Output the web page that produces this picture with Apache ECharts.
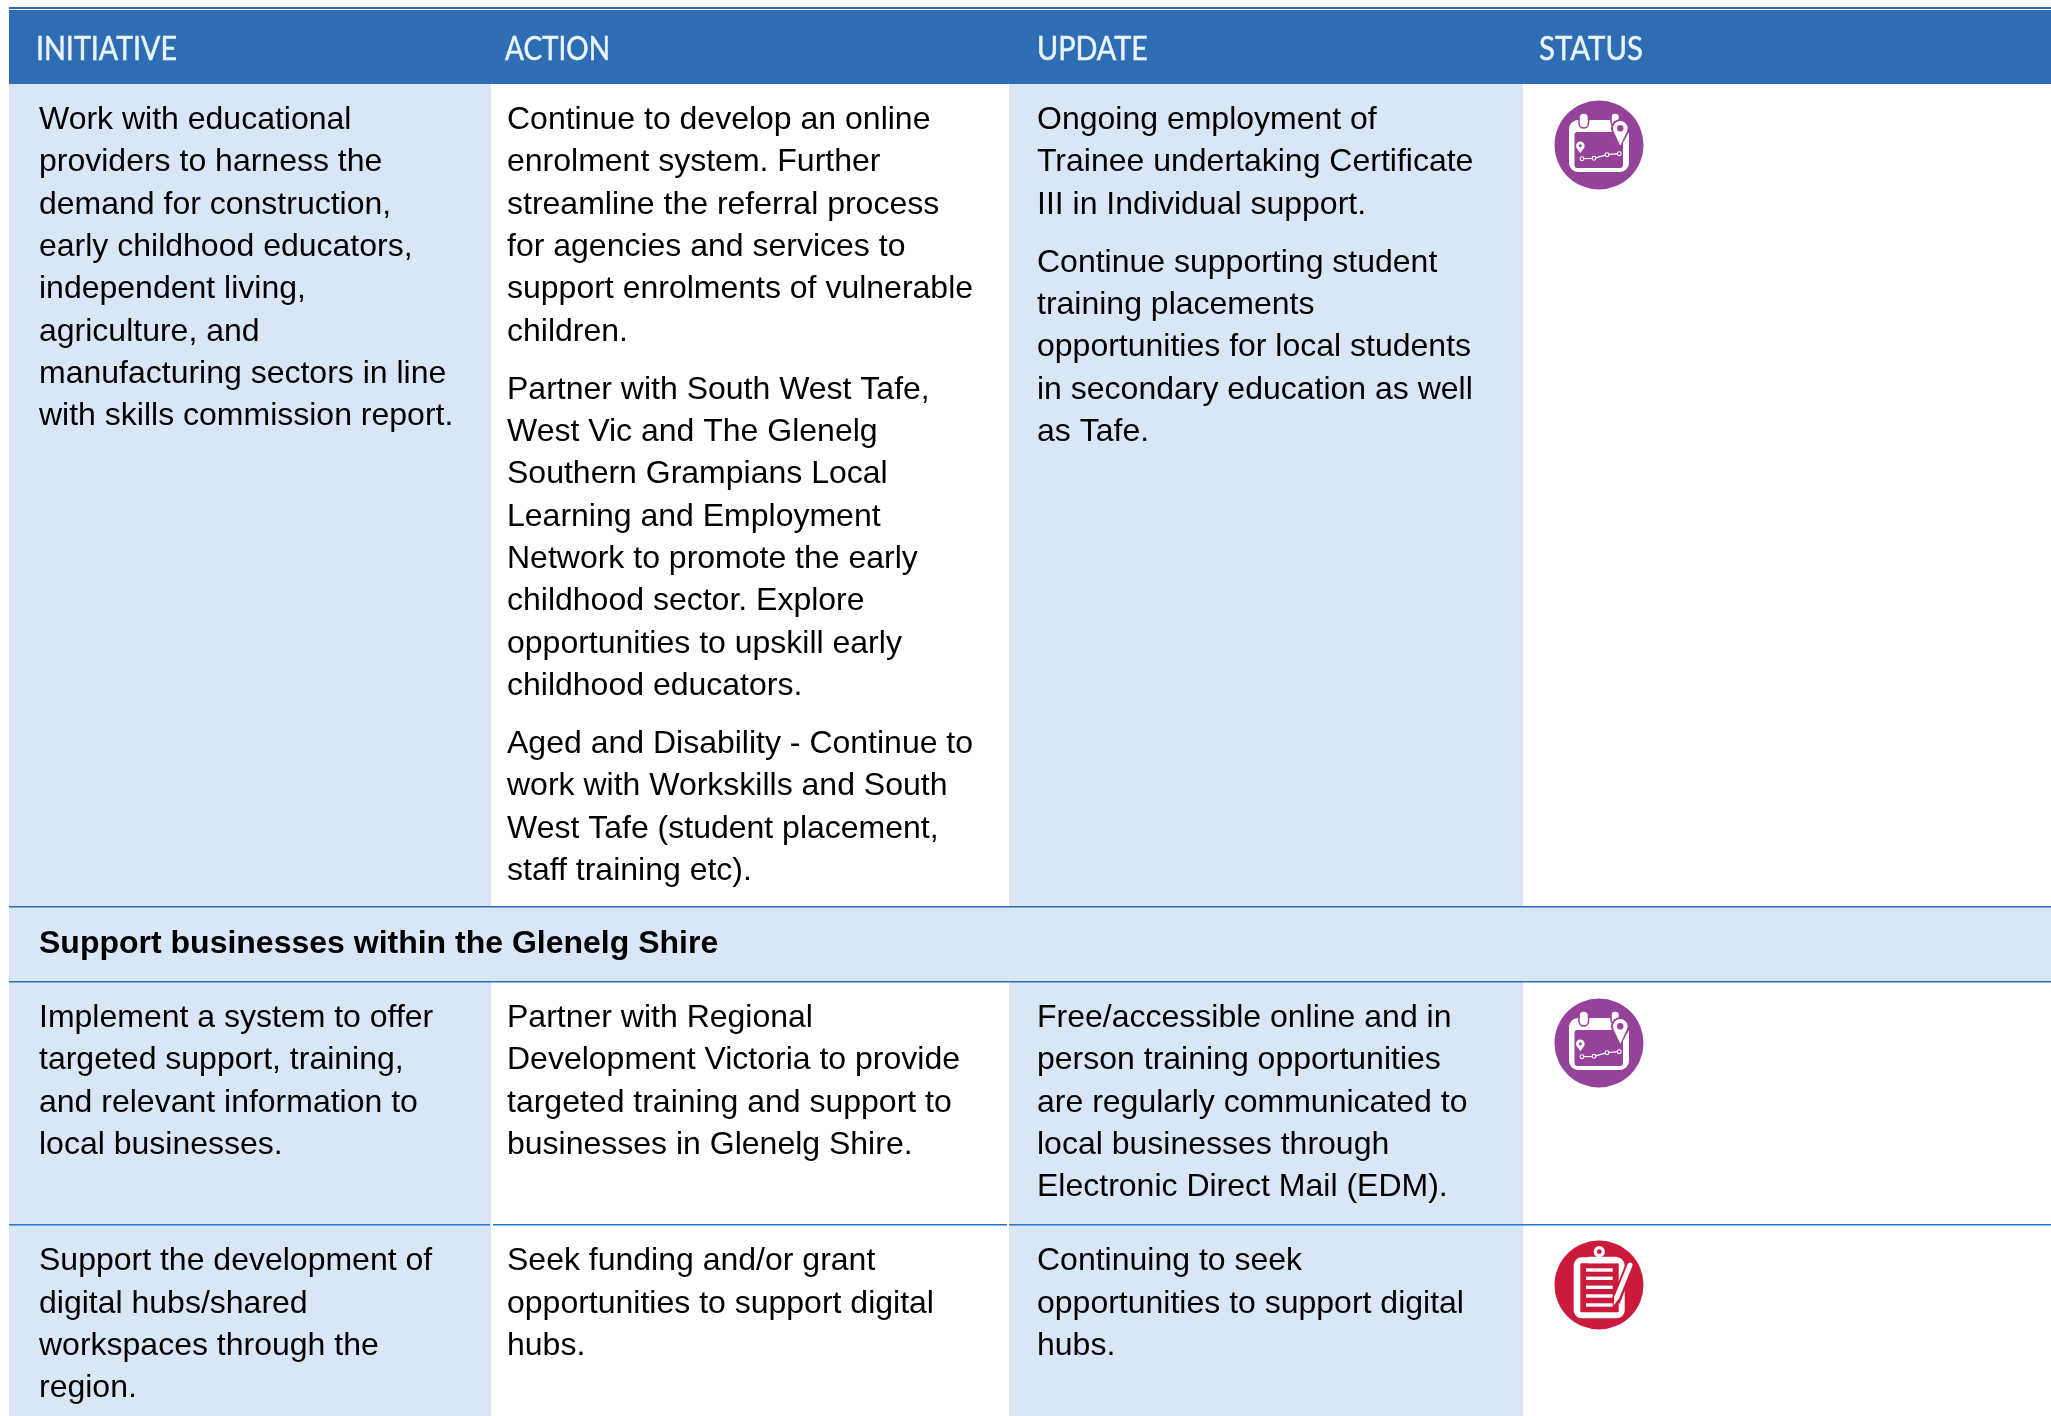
<!DOCTYPE html>
<html>
<head>
<meta charset="utf-8">
<title>Initiatives table</title>
<script src="https://cdn.jsdelivr.net/npm/echarts@6/dist/echarts.min.js"></script>
<style>
  html, body { margin: 0; padding: 0; background: #fff; }
  #main { width: 2051px; height: 1416px; }
</style>
</head>
<body>
<div id="main"></div>
<script>
// table content, one list of lines per paragraph
var headers = ['INITIATIVE', 'ACTION', 'UPDATE', 'STATUS'];
var sectionTitle = 'Support businesses within the Glenelg Shire';

var initiative1 = [['Work with educational', 'providers to harness the', 'demand for construction,', 'early childhood educators,', 'independent living,', 'agriculture, and', 'manufacturing sectors in line', 'with skills commission report.']];
var action1 = [
  ['Continue to develop an online', 'enrolment system. Further', 'streamline the referral process', 'for agencies and services to', 'support enrolments of vulnerable', 'children.'],
  ['Partner with South West Tafe,', 'West Vic and The Glenelg', 'Southern Grampians Local', 'Learning and Employment', 'Network to promote the early', 'childhood sector. Explore', 'opportunities to upskill early', 'childhood educators.'],
  ['Aged and Disability - Continue to', 'work with Workskills and South', 'West Tafe (student placement,', 'staff training etc).']
];
var update1 = [
  ['Ongoing employment of', 'Trainee undertaking Certificate', 'III in Individual support.'],
  ['Continue supporting student', 'training placements', 'opportunities for local students', 'in secondary education as well', 'as Tafe.']
];

var initiative2 = [['Implement a system to offer', 'targeted support, training,', 'and relevant information to', 'local businesses.']];
var action2 = [['Partner with Regional', 'Development Victoria to provide', 'targeted training and support to', 'businesses in Glenelg Shire.']];
var update2 = [['Free/accessible online and in', 'person training opportunities', 'are regularly communicated to', 'local businesses through', 'Electronic Direct Mail (EDM).']];

var initiative3 = [['Support the development of', 'digital hubs/shared', 'workspaces through the', 'region.']];
var action3 = [['Seek funding and/or grant', 'opportunities to support digital', 'hubs.']];
var update3 = [['Continuing to seek', 'opportunities to support digital', 'hubs.']];

// layout
var blue = '#2e6db4';
var pale = '#d9e6f6';
var purple = '#94429a';
var red = '#cb1a3c';
var bodyFont = '32px "Liberation Sans"';
var headerFont = '32px Lato';
var lineGap = 42.35;
var paraGap = 15.5;
var headerX = [36, 505, 1037, 1539];
var headerWidths = [141, 105, 111, 104];
var textX = [39, 507, 1037];

var elements = [];
var measure = document.createElement('canvas').getContext('2d');

function rect(x, y, w, h, fill) {
  elements.push({ type: 'rect', silent: true, shape: { x: x, y: y, width: w, height: h }, style: { fill: fill } });
}

function cell(paragraphs, x, y) {
  paragraphs.forEach(function (lines) {
    lines.forEach(function (line) {
      elements.push({
        type: 'text', silent: true, x: x, y: y,
        style: { text: line, font: bodyFont, fill: '#000', align: 'left', verticalAlign: 'middle' }
      });
      y += lineGap;
    });
    y += paraGap;
  });
}

// small helpers for icon parts
function c(x, y, r, fill) {
  return { type: 'circle', shape: { cx: x, cy: y, r: r }, style: { fill: fill } };
}
function rr(x, y, w, h, r, fill, stroke, lw) {
  return { type: 'rect', shape: { x: x, y: y, width: w, height: h, r: r }, style: { fill: fill, stroke: stroke, lineWidth: lw || 0 } };
}
function pinTail(x, y, r, tipY, fill) {
  return {
    type: 'polygon',
    shape: { points: [[x - r * 0.92, y + r * 0.4], [x + r * 0.92, y + r * 0.4], [x, tipY]] },
    style: { fill: fill }
  };
}

function calendarIcon(cx, cy) {
  var line = [[-17, 13.7], [-5, 13.3], [8, 9.7], [20.3, 8.7]];
  var parts = [
    c(0, 0, 44.5, purple),
    rr(-30, -25, 60, 52, 9, '#fff'),
    rr(-24.5, -13, 48.5, 36, 3, purple),
    rr(-20, -32, 9.5, 15, 4.7, '#fff', purple, 1.5),
    rr(12, -32, 8.5, 13, 4, '#fff', purple, 1.5),
    // big pin with a purple edge
    c(21.3, -16.7, 9.3, purple),
    pinTail(21.3, -16.7, 9.3, 3, purple),
    c(21.3, -16.7, 7.3, '#fff'),
    pinTail(21.3, -16.7, 7.3, 0.7, '#fff'),
    c(21.3, -16.7, 3.2, purple),
    // small pin
    c(-18.7, 0.7, 4.3, '#fff'),
    pinTail(-18.7, 0.7, 4.3, 8.3, '#fff'),
    c(-18.7, 0.7, 1.5, purple),
    { type: 'polyline', shape: { points: line }, style: { stroke: '#fff', lineWidth: 1.3, fill: null } }
  ];
  line.forEach(function (p) {
    parts.push({ type: 'circle', shape: { cx: p[0], cy: p[1], r: 1.9 }, style: { fill: purple, stroke: '#fff', lineWidth: 1.1 } });
  });
  elements.push({ type: 'group', silent: true, x: cx, y: cy, children: parts });
}

function clipboardIcon(cx, cy) {
  var parts = [
    c(0, 0, 44.5, red),
    rr(-25.3, -27.7, 51, 61, 8, '#fff'),
    rr(-18.7, -21.7, 38.4, 49, 1, red),
    c(0.3, -33.3, 5.6, '#fff'),
    c(0.3, -33.3, 2.4, red),
    rr(-11.3, -28.3, 30, 6.6, 1.5, '#fff')
  ];
  [-15, -6.7, 2.3, 11, 20].forEach(function (y) {
    parts.push(rr(-13, y - 1.7, 26.7, 3.4, 0, '#fff'));
  });
  // pencil, red edge first so it cuts the board
  parts.push({ type: 'line', shape: { x1: 16.5, y1: 17, x2: 31, y2: -20 }, style: { stroke: red, lineWidth: 9 } });
  parts.push({ type: 'line', shape: { x1: 18, y1: 12, x2: 31, y2: -20 }, style: { stroke: '#fff', lineWidth: 5, lineCap: 'round' } });
  parts.push({ type: 'polygon', shape: { points: [[14.7, 20.5], [15.5, 10.5], [20.5, 12.5]] }, style: { fill: '#fff' } });
  elements.push({ type: 'group', silent: true, x: cx, y: cy, children: parts });
}

// column fills
rect(9, 84, 482, 1332, pale);
rect(1009, 84, 514, 1332, pale);

// top rule and header band
rect(9, 7, 2042, 2, blue);
rect(9, 10, 2042, 74, blue);
measure.font = headerFont;
headers.forEach(function (h, i) {
  // header face is narrower than Lato, squeeze it to the measured width
  elements.push({
    type: 'text', silent: true, x: headerX[i], y: 50,
    scaleX: headerWidths[i] / measure.measureText(h).width,
    style: { text: h, font: headerFont, fill: '#e8f4fb', stroke: '#e8f4fb', lineWidth: 0.5, align: 'left', verticalAlign: 'middle' }
  });
});

// section band between rows
rect(9, 907, 2042, 75, pale);
rect(9, 906, 2042, 1.5, blue);
rect(9, 981, 2042, 1.5, blue);
elements.push({
  type: 'text', silent: true, x: textX[0], y: 944.5,
  style: { text: sectionTitle, font: 'bold 32px "Liberation Sans"', fill: '#000', align: 'left', verticalAlign: 'middle' }
});

// rule under the second row, broken at the column edges
rect(9, 1224, 481, 1.5, '#2e75c6');
rect(493, 1224, 514, 1.5, '#2e75c6');
rect(1009, 1224, 1042, 1.5, '#2e75c6');

cell(initiative1, textX[0], 120.2);
cell(action1, textX[1], 120.2);
cell(update1, textX[2], 120.2);

cell(initiative2, textX[0], 1018.2);
cell(action2, textX[1], 1018.2);
cell(update2, textX[2], 1018.2);

cell(initiative3, textX[0], 1261.5);
cell(action3, textX[1], 1261.5);
cell(update3, textX[2], 1261.5);

calendarIcon(1599, 145);
calendarIcon(1599, 1043);
clipboardIcon(1599, 1285);

var myChart = echarts.init(document.getElementById('main'));
var option = {
  backgroundColor: '#fff',
  animation: false,
  graphic: { elements: elements }
};
option && myChart.setOption(option);
</script>
</body>
</html>
